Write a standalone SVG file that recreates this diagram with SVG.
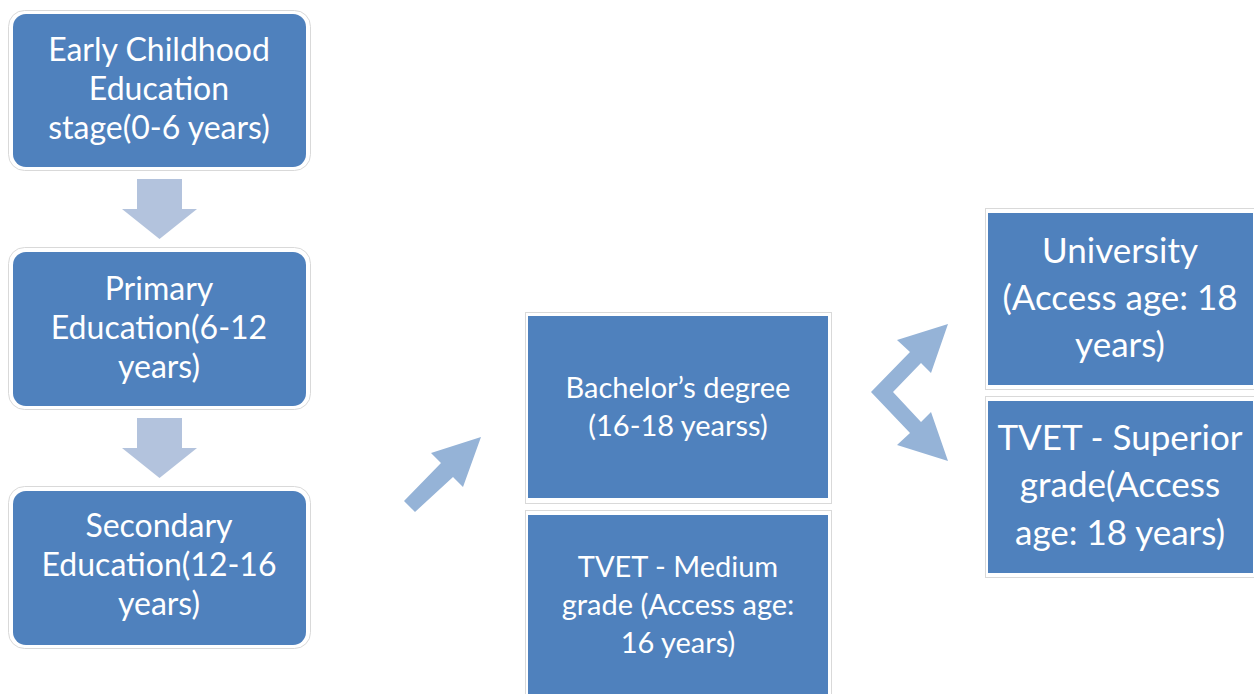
<svg xmlns="http://www.w3.org/2000/svg" width="1254" height="694" viewBox="0 0 1254 694">
<style>
.frame{fill:#ffffff;stroke:#d9d9d9;stroke-width:1}
.box{fill:#4f81bd}
.t{font-family:Lato,"Open Sans",sans-serif;fill:#ffffff;text-anchor:middle}
.l{font-size:32px}
.m{font-size:29px}
.r{font-size:35px}
.down{fill:#b3c3dd}
.diag{fill:#95b3d7}
</style>
<rect width="1254" height="694" fill="#ffffff"/>
<g id="early">
<rect class="frame" x="8.5" y="10.5" width="302" height="160" rx="16"/>
<rect class="box" x="13" y="14" width="293" height="153" rx="13"/>
<text class="t l" x="159" y="61">Early Childhood</text>
<text class="t l" x="159" y="100">Education</text>
<text class="t l" x="159" y="139">stage(0-6 years)</text>
</g>
<g id="primary">
<rect class="frame" x="8.5" y="247.5" width="302" height="162" rx="16"/>
<rect class="box" x="13" y="252" width="293" height="154" rx="13"/>
<text class="t l" x="159" y="300">Primary</text>
<text class="t l" x="159" y="339">Education(6-12</text>
<text class="t l" x="159" y="378">years)</text>
</g>
<g id="secondary">
<rect class="frame" x="8.5" y="486.5" width="302" height="162" rx="16"/>
<rect class="box" x="13" y="491" width="293" height="154" rx="13"/>
<text class="t l" x="159" y="537">Secondary</text>
<text class="t l" x="159" y="576">Education(12-16</text>
<text class="t l" x="159" y="615">years)</text>
</g>
<g id="bachelor">
<rect class="frame" x="525.5" y="312.5" width="306" height="191"/>
<rect class="box" x="528" y="316" width="300" height="182"/>
<text class="t m" x="678" y="398">Bachelor’s degree</text>
<text class="t m" x="678" y="436">(16-18 yearss)</text>
</g>
<g id="tvet-medium">
<rect class="frame" x="525.5" y="510.5" width="306" height="200"/>
<rect class="box" x="528" y="515" width="300" height="190"/>
<text class="t m" x="678" y="577">TVET - Medium</text>
<text class="t m" x="678" y="615">grade (Access age:</text>
<text class="t m" x="678" y="653">16 years)</text>
</g>
<g id="university">
<rect class="frame" x="985.5" y="208.5" width="275" height="181"/>
<rect class="box" x="988" y="213" width="265" height="172"/>
<text class="t r" x="1120" y="263">University</text>
<text class="t r" x="1120" y="310">(Access age: 18</text>
<text class="t r" x="1120" y="357">years)</text>
</g>
<g id="tvet-superior">
<rect class="frame" x="985.5" y="396.5" width="275" height="181"/>
<rect class="box" x="988" y="401" width="265" height="172"/>
<text class="t r" x="1120" y="450">TVET - Superior</text>
<text class="t r" x="1120" y="497">grade(Access</text>
<text class="t r" x="1120" y="545">age: 18 years)</text>
</g>
<g id="connectors">
<polygon class="down" points="137,179 182,179 182,209 197,209 159.5,239 122,209 137,209"/>
<polygon class="down" points="137,418 182,418 182,448 197,448 159.5,478 122,448 137,448"/>
<polygon class="diag" points="481,437 463,487 453,477 415,512 404,501 441,463 431,453"/>
<polygon class="diag" points="948,324 931,373 921,363 893,392 921,422 931,412 948,461 897,445 910,433 871,392 910,352 897,340"/>
</g>
</svg>
